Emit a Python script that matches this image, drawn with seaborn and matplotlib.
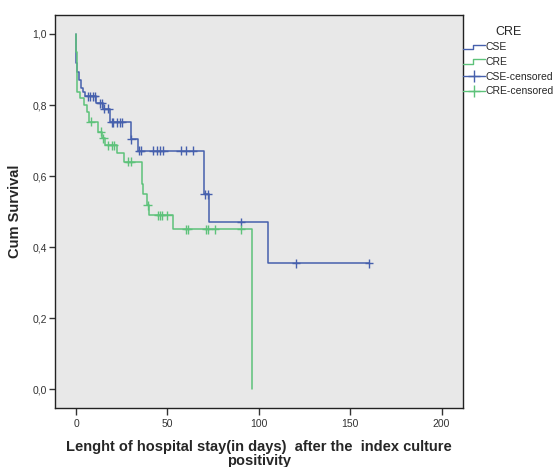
import numpy as np
import pandas as pd
import matplotlib
matplotlib.use('Agg')
import matplotlib.pyplot as plt
import seaborn as sns
from matplotlib.lines import Line2D
from matplotlib.legend_handler import HandlerLine2D

# Kaplan-Meier steps (day of event, survival after it)
cse_times = [0, 0.7, 1.8, 2.8, 3.7, 4.9, 11.0, 14.6, 18.6, 29.9, 34.0, 70.0, 72.9, 105.2]
cse_surv = [0.917, 0.894, 0.870, 0.847, 0.837, 0.825, 0.805, 0.790, 0.751, 0.703, 0.671, 0.549, 0.471, 0.354]
cse_censored = [6.7, 7.7, 9.5, 10.4, 13.1, 14.0, 15.5, 17.7, 19.5, 20.4, 22.3, 24.0, 25.0, 30.2,
                34.6, 35.4, 42.3, 44.1, 46.0, 47.8, 57.3, 60.2, 63.8, 70.3, 72.2, 90.2, 120.4, 160.3]

cre_times = [0, 0.7, 2.2, 4.4, 5.8, 7.0, 12.2, 14.0, 15.9, 22.3, 26.3, 35.9, 36.8, 38.7, 40.1, 52.9, 96.2]
cre_surv = [0.950, 0.837, 0.819, 0.800, 0.781, 0.753, 0.725, 0.706, 0.687, 0.664, 0.640, 0.579, 0.549,
            0.518, 0.490, 0.450, 0.0]
cre_censored = [8.0, 13.7, 14.9, 17.7, 19.5, 20.6, 28.6, 30.0, 39.3, 45.0, 46.0, 46.9, 50.0, 60.2, 61.2,
                71.1, 72.4, 76.0, 90.3]

groups = ['CSE', 'CRE']
colors = {'CSE': '#4660ad', 'CRE': '#5dc27a'}
x_ticks = [0, 50, 100, 150, 200]
y_ticks = [0.0, 0.2, 0.4, 0.6, 0.8, 1.0]
y_tick_labels = ['0,0', '0,2', '0,4', '0,6', '0,8', '1,0']


def step_frame(name, times, surv, censored):
    xs = [0.0] + list(times)
    ys = [1.0] + list(surv)
    if censored and censored[-1] > times[-1]:
        xs.append(censored[-1])
        ys.append(surv[-1])
    return pd.DataFrame({'day': xs, 'surv': ys, 'group': name})


def censor_frame(name, times, surv, censored):
    idx = np.searchsorted(times, censored, side='right') - 1
    ys = [surv[i] if i >= 0 else 1.0 for i in idx]
    return pd.DataFrame({'day': censored, 'surv': ys, 'group': name})


curves = pd.concat([step_frame('CSE', cse_times, cse_surv, cse_censored),
                    step_frame('CRE', cre_times, cre_surv, cre_censored)], ignore_index=True)
marks = pd.concat([censor_frame('CSE', cse_times, cse_surv, cse_censored),
                   censor_frame('CRE', cre_times, cre_surv, cre_censored)], ignore_index=True)

sns.set_style('ticks', {'axes.facecolor': '#e8e8e8', 'axes.edgecolor': '#222222'})
plt.rcParams['font.family'] = ['Liberation Sans', 'DejaVu Sans']

fig = plt.figure(figsize=(5.58, 4.67), dpi=100)
ax = fig.add_axes([0.0986, 0.1263, 0.7311, 0.8416])

sns.lineplot(data=curves, x='day', y='surv', hue='group', hue_order=groups, palette=colors,
             drawstyle='steps-post', estimator=None, sort=False, linewidth=1.1, legend=False, ax=ax)
sns.scatterplot(data=marks, x='day', y='surv', hue='group', hue_order=groups, palette=colors,
                marker='+', s=40, linewidth=1.0, legend=False, ax=ax, zorder=3)

ax.set_xlim(-11.5, 211.7)
ax.set_ylim(-0.053, 1.0535)
ax.set_xticks(x_ticks)
ax.set_xticklabels([str(t) for t in x_ticks])
ax.set_yticks(y_ticks)
ax.set_yticklabels(y_tick_labels)
ax.tick_params(axis='x', length=5, width=1, labelsize=7.5, colors='#333333', pad=3)
ax.tick_params(axis='y', length=4, width=1, labelsize=7.5, colors='#333333', pad=2)
for sp in ax.spines.values():
    sp.set_visible(True)
    sp.set_linewidth(1.0)

ax.set_xlabel('Lenght of hospital stay(in days)  after the  index culture\npositivity',
              fontsize=10.5, fontweight='bold', labelpad=8, linespacing=0.95)
ax.set_ylabel('Cum Survival', fontsize=10.5, fontweight='bold', labelpad=7)


class StepHandler(HandlerLine2D):
    def create_artists(self, legend, orig_handle, xdescent, ydescent, width, height, fontsize, trans):
        x0, x1 = -xdescent, -xdescent + width
        ym = height / 2 - ydescent
        xs = [x0, x0 + width * 0.45, x0 + width * 0.45, x1]
        ys = [ym - height * 0.3, ym - height * 0.3, ym + height * 0.3, ym + height * 0.3]
        line = Line2D(xs, ys, color=orig_handle.get_color(), linewidth=1.0, transform=trans)
        return [line]


handles = [Line2D([], [], color=colors['CSE']), Line2D([], [], color=colors['CRE']),
           Line2D([], [], color=colors['CSE'], marker='+', markersize=8, lw=1.0),
           Line2D([], [], color=colors['CRE'], marker='+', markersize=8, lw=1.0)]
labels = ['CSE', 'CRE', 'CSE-censored', 'CRE-censored']
fig.legend(handles, labels, title='CRE', loc='upper left', bbox_to_anchor=(0.8297, 0.945),
           frameon=False, fontsize=7.5, title_fontsize=9, handlelength=2.1, handletextpad=0.1,
           labelspacing=0.45, borderpad=0, borderaxespad=0,
           handler_map={handles[0]: StepHandler(), handles[1]: StepHandler()})

fig.savefig('out.png', dpi=100)
